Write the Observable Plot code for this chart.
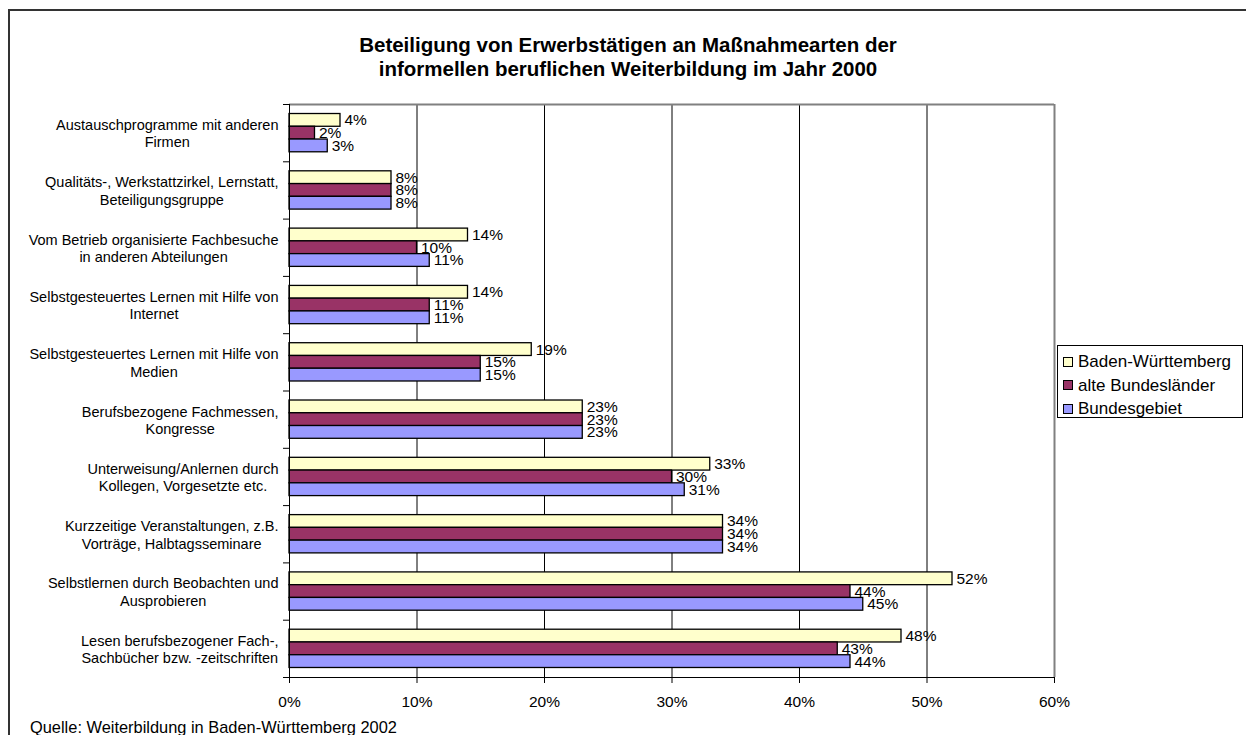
<!DOCTYPE html>
<html>
<head>
<meta charset="utf-8">
<script src="https://cdn.jsdelivr.net/npm/d3@7"></script>
<script src="https://cdn.jsdelivr.net/npm/@observablehq/plot@0.6"></script>
<style>
  html, body { margin: 0; padding: 0; background: #fff; }
  #wrap { position: relative; width: 1246px; height: 735px; overflow: hidden; font-family: "Liberation Sans", Arial, sans-serif; color: #000; }
  #frame { position: absolute; left: 8px; top: 9px; width: 1400px; height: 900px; border: 2px solid #333; box-sizing: border-box; }
  #title { position: absolute; left: 0; top: 33px; width: 1256px; text-align: center; font-weight: bold; font-size: 20.5px; line-height: 24px; }
  #caption { position: absolute; left: 30px; top: 718px; font-size: 16.4px; line-height: 18px; white-space: nowrap; }
  #chart { position: absolute; left: 0; top: 0; }
  #legend { position: absolute; left: 1057px; top: 345px; width: 186px; height: 73px; border: 1px solid #000; box-sizing: border-box; background: #fff; padding-top: 4px; }
  .lrow { height: 23.5px; line-height: 23.5px; font-size: 17px; white-space: nowrap; display: flex; align-items: center; }
  .lsw { width: 10px; height: 10px; border: 1px solid #000; box-sizing: border-box; margin-left: 5px; margin-right: 5px; flex: none; }
</style>
</head>
<body>
<div id="wrap">
  <div id="frame"></div>
  <div id="chart"></div>
  <div id="title">Beteiligung von Erwerbstätigen an Maßnahmearten der<br>informellen beruflichen Weiterbildung im Jahr 2000</div>
  <div id="legend"></div>
  <div id="caption">Quelle: Weiterbildung in Baden-Württemberg 2002</div>
</div>
<script>
const categories = [
  "Austauschprogramme mit anderen\nFirmen",
  "Qualitäts-, Werkstattzirkel, Lernstatt,\nBeteiligungsgruppe",
  "Vom Betrieb organisierte Fachbesuche\nin anderen Abteilungen",
  "Selbstgesteuertes Lernen mit Hilfe von\nInternet",
  "Selbstgesteuertes Lernen mit Hilfe von\nMedien",
  "Berufsbezogene Fachmessen,\nKongresse",
  "Unterweisung/Anlernen durch\nKollegen, Vorgesetzte etc.",
  "Kurzzeitige Veranstaltungen, z.B.\nVorträge, Halbtagsseminare",
  "Selbstlernen durch Beobachten und\nAusprobieren",
  "Lesen berufsbezogener Fach-,\nSachbücher bzw. -zeitschriften"
];
const seriesNames = ["Baden-Württemberg", "alte Bundesländer", "Bundesgebiet"];
const badenWuerttemberg = [4, 8, 14, 14, 19, 23, 33, 34, 52, 48];
const alteBundeslaender = [2, 8, 10, 11, 15, 23, 30, 34, 44, 43];
const bundesgebiet = [3, 8, 11, 11, 15, 23, 31, 34, 45, 44];
const xTicks = [0, 10, 20, 30, 40, 50, 60];
const seriesColors = ["#FFFFCC", "#993366", "#9999FF"];

const seriesValues = [badenWuerttemberg, alteBundeslaender, bundesgebiet];
const groupPad = 0.166;
const barH = (1 - 2 * groupPad) / 3;
const rows = [];
categories.forEach((c, i) => {
  seriesValues.forEach((vals, s) => {
    const y1 = i + groupPad + s * barH;
    rows.push({cat: c, series: seriesNames[s], value: vals[i], y1, y2: y1 + barH, ym: y1 + barH / 2});
  });
});

// measure label blocks: each block is right-aligned near the axis, lines centered inside it
const catFontSize = 14.5;
const ctx = document.createElement("canvas").getContext("2d");
ctx.font = `${catFontSize}px "Liberation Sans", Arial, sans-serif`;
const labelGap = 11; // px between label block and axis
const labelMarks = categories.map((c, i) => {
  const wmax = d3.max(c.split("\n"), l => ctx.measureText(l).width);
  return Plot.text([c], {x: 0, y: () => i + 0.5, text: d => d, textAnchor: "middle",
    dx: -(labelGap + wmax / 2), fontSize: catFontSize, lineHeight: 1.2, fill: "#000"});
});

const W = 1246, H = 735;
const chart = Plot.plot({
  width: W, height: H,
  marginLeft: 289, marginRight: W - 1054, marginTop: 104, marginBottom: H - 677,
  style: {fontFamily: '"Liberation Sans", Arial, sans-serif', fontSize: "15.5px", color: "#000", background: "transparent"},
  x: {domain: [0, 60], axis: null},
  y: {domain: [0, categories.length], reverse: true, axis: null},
  color: {domain: seriesNames, range: seriesColors},
  marks: [
    Plot.ruleX([10, 20, 30, 40, 50], {stroke: "#000", strokeWidth: 1}),
    Plot.ruleX([60], {stroke: "#808080", strokeWidth: 2}),
    Plot.ruleY([0], {stroke: "#808080", strokeWidth: 2}),
    Plot.rect(rows, {x1: 0, x2: "value", y1: "y1", y2: "y2", fill: "series", stroke: "#000", strokeWidth: 1.3}),
    Plot.text(rows, {x: "value", y: "ym", text: d => d.value + "%", textAnchor: "start", dx: 4, fontSize: 15.5, fill: "#000"}),
    Plot.ruleX([0], {stroke: "#000", strokeWidth: 1}),
    Plot.ruleY([categories.length], {stroke: "#000", strokeWidth: 1}),
    Plot.axisX({ticks: xTicks, tickFormat: d => d + "%", tickSize: 6, tickPadding: 12, label: null, fontSize: 15.5, stroke: "#000"}),
    Plot.axisY({ticks: d3.range(0, categories.length + 1), tickFormat: () => "", tickSize: 6, label: null, stroke: "#000"}),
    ...labelMarks
  ]
});
document.getElementById("chart").appendChild(chart);

const color = chart.scale("color");
const legend = document.getElementById("legend");
color.domain.forEach((name, i) => {
  const row = document.createElement("div");
  row.className = "lrow";
  const sw = document.createElement("span");
  sw.className = "lsw";
  sw.style.background = color.range[i];
  row.appendChild(sw);
  row.appendChild(document.createTextNode(name));
  legend.appendChild(row);
});
</script>
</body>
</html>
